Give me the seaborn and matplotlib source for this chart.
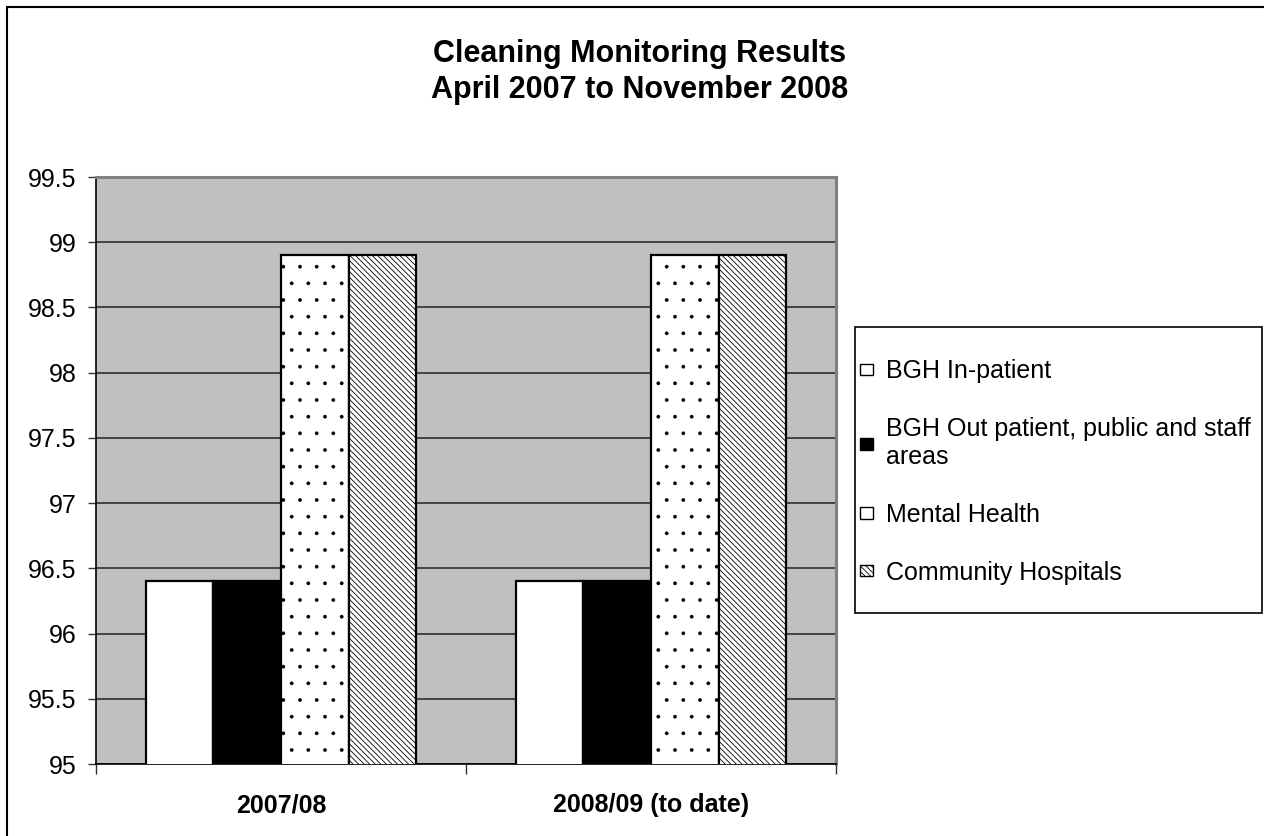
import matplotlib
matplotlib.use("Agg")
import matplotlib.pyplot as plt
import seaborn as sns
import pandas as pd
from matplotlib.patches import Rectangle

# Reporting periods and monitored areas
periods = ["2007/08", "2008/09 (to date)"]
areas = [
    "BGH In-patient",
    "BGH Out patient, public and staff\nareas",
    "Mental Health",
    "Community Hospitals",
]

# Cleaning scores (%) per area, one value per period
bgh_inpatient = [96.4, 96.4]
bgh_outpatient = [96.4, 96.4]
mental_health = [98.9, 98.9]
community_hospitals = [98.9, 98.9]

y_ticks = [95, 95.5, 96, 96.5, 97, 97.5, 98, 98.5, 99, 99.5]
y_tick_labels = ["95", "95.5", "96", "96.5", "97", "97.5", "98", "98.5", "99", "99.5"]

title_text = "Cleaning Monitoring Results\nApril 2007 to November 2008"

series = [bgh_inpatient, bgh_outpatient, mental_health, community_hospitals]
rows = []
for area, vals in zip(areas, series):
    for period, v in zip(periods, vals):
        rows.append({"period": period, "area": area, "score": v})
df = pd.DataFrame(rows)

sns.set_style("white")
plt.rcParams["font.family"] = ["Liberation Sans", "DejaVu Sans"]
plt.rcParams["text.color"] = "black"
plt.rcParams["xtick.color"] = "black"
plt.rcParams["ytick.color"] = "black"
plt.rcParams["hatch.linewidth"] = 0.6

fig = plt.figure(figsize=(12.64, 8.36), dpi=100)
W, H = 1264, 836
ax = fig.add_axes([96 / W, 1 - 764 / H, (836 - 96) / W, (764 - 177) / H])
ax.set_facecolor("#C0C0C0")

fills = ["white", "black", "white", "white"]
hatches = [None, None, ".", "\\" * 6]
hatch_widths = [0.6, 0.6, 0.25, 0.6]

sns.barplot(
    data=df, x="period", y="score", hue="area", order=periods, hue_order=areas,
    palette=fills, saturation=1, edgecolor="black", linewidth=1.6,
    width=0.73, ax=ax, zorder=3,
)

for container, hatch, hw in zip(ax.containers, hatches, hatch_widths):
    for bar in container:
        if hatch:
            bar.set_hatch(hatch)
            if hasattr(bar, "set_hatch_linewidth"):
                bar.set_hatch_linewidth(hw)

ax.set_ylim(95, 99.5)
ax.set_xlim(-0.5, 1.5)
ax.set_yticks(y_ticks)
ax.set_yticklabels(y_tick_labels, fontsize=18)
ax.yaxis.grid(True, color="#222222", linewidth=1.1, zorder=0)
ax.set_axisbelow(True)
ax.tick_params(axis="y", direction="out", length=6, width=1, color="#333333",
               left=True, pad=8)

ax.set_xticks([0, 1])
ax.set_xticklabels(periods, fontsize=18, fontweight="bold")
ax.set_xticks([-0.5, 0.5, 1.5], minor=True)
ax.tick_params(axis="x", which="major", length=0, pad=21)
ax.tick_params(axis="x", which="minor", direction="out", length=7, width=1,
               color="#333333", bottom=True)
ax.set_xlabel("")
ax.set_ylabel("")

for side in ["left", "bottom"]:
    ax.spines[side].set_color("black")
    ax.spines[side].set_linewidth(1.2)
for side in ["top", "right"]:
    ax.spines[side].set_color("#808080")
    ax.spines[side].set_linewidth(2.2)

# Legend to the right of the plot, inside its own framed box
ax.get_legend().remove()
handles = []
for fill, hatch in zip(fills, hatches):
    handles.append(Rectangle((0, 0), 1, 1, facecolor=fill, edgecolor="black",
                             linewidth=1, hatch=hatch))
leg = fig.legend(
    handles, areas, loc="center left", bbox_to_anchor=(860 / W, 1 - 472 / H),
    fontsize=18, frameon=False,
    handlelength=0.5, handleheight=0.35, handletextpad=0.55,
    labelspacing=1.35, borderpad=0, borderaxespad=0,
)
fig.patches.append(Rectangle((855 / W, 1 - 613 / H), (1262 - 855) / W,
                             (613 - 327) / H, transform=fig.transFigure,
                             fill=False, edgecolor="black", linewidth=1.2))

fig.text(640 / W, 1 - 72 / H, title_text, ha="center", va="center",
         fontsize=22, fontweight="bold", linespacing=1.25)

# Outer chart border
fig.patches.append(Rectangle((7 / W, -0.05), 1.1, 1 - 7 / H + 0.05,
                             transform=fig.transFigure, fill=False,
                             edgecolor="black", linewidth=1.5))

fig.savefig("out.png", dpi=100)
